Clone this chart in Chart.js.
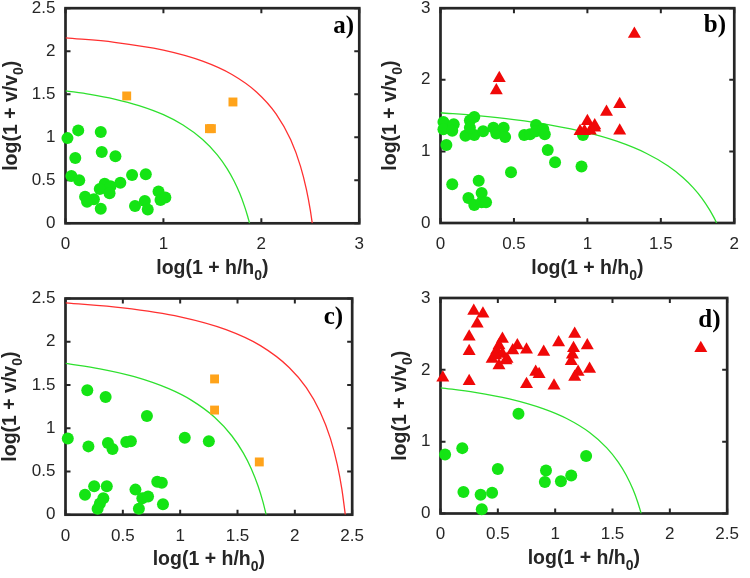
<!DOCTYPE html>
<html>
<head>
<meta charset="utf-8">
<script src="https://cdn.jsdelivr.net/npm/chart.js@4/dist/chart.umd.min.js"></script>
<style>
  body { margin: 0; background: #fff; }
  #wrap { position: relative; width: 750px; height: 578px; background: #fff; overflow: hidden; }
  .panel { position: absolute; width: 375px; height: 301px; }
</style>
</head>
<body>
<div id="wrap">
  <div class="panel" style="left:0;top:-12px"><canvas id="chartA" width="375" height="301"></canvas></div>
  <div class="panel" style="left:375px;top:-12px"><canvas id="chartB" width="375" height="301"></canvas></div>
  <div class="panel" style="left:0;top:277px"><canvas id="chartC" width="375" height="301"></canvas></div>
  <div class="panel" style="left:375px;top:277px"><canvas id="chartD" width="375" height="301"></canvas></div>
</div>
<script>
// ---- panel a ----
const aGreenX = [0.02, 0.13, 0.36, 0.10, 0.37, 0.51, 0.06, 0.14, 0.68, 0.82, 0.56, 0.40, 0.46, 0.35, 0.45, 0.20, 0.29, 0.22, 0.36, 0.71, 0.81, 0.84, 0.95, 0.97, 1.02];
const aGreenY = [0.99, 1.08, 1.06, 0.76, 0.83, 0.78, 0.55, 0.50, 0.56, 0.57, 0.47, 0.46, 0.43, 0.40, 0.35, 0.31, 0.28, 0.25, 0.17, 0.20, 0.26, 0.16, 0.37, 0.27, 0.30];
const aOrangeX = [0.625, 1.47, 1.49, 1.71];
const aOrangeY = [1.48, 1.10, 1.10, 1.41];
const aRedCurveX = [0, 0.5, 1.0, 1.4, 1.7, 1.95, 2.15, 2.3, 2.4, 2.46, 2.5, 2.52];
const aRedCurveY = [2.155, 2.104, 2.013, 1.885, 1.730, 1.527, 1.272, 0.970, 0.662, 0.395, 0.153, 0];
const abGreenCurveX = [0, 0.25, 0.5, 0.75, 1.0, 1.2, 1.4, 1.55, 1.65, 1.72, 1.78, 1.83, 1.86, 1.88];
const abGreenCurveY = [1.54, 1.499, 1.444, 1.368, 1.262, 1.142, 0.974, 0.796, 0.636, 0.494, 0.345, 0.191, 0.082, 0];
const aTicksX = [0, 1, 2, 3];
const aTicksY = [0, 0.5, 1, 1.5, 2, 2.5];

// ---- panel b ----
const bGreenX = [0.02, 0.02, 0.09, 0.08, 0.04, 0.08, 0.20, 0.23, 0.17, 0.23, 0.20, 0.29, 0.36, 0.38, 0.43, 0.44, 0.48, 0.26, 0.28, 0.19, 0.23, 0.28, 0.31, 0.57, 0.61, 0.65, 0.65, 0.70, 0.71, 0.73, 0.78, 0.96, 0.97];
const bGreenY = [1.41, 1.31, 1.38, 1.29, 1.09, 0.54, 1.43, 1.48, 1.22, 1.23, 1.33, 1.28, 1.33, 1.25, 1.33, 1.20, 0.71, 0.59, 0.42, 0.35, 0.25, 0.29, 0.29, 1.23, 1.24, 1.37, 1.28, 1.31, 1.24, 1.02, 0.85, 0.79, 1.23];
const bRedX = [1.32, 0.40, 0.38, 1.13, 1.22, 1.22, 1.00, 1.05, 0.95, 0.98, 1.02, 1.05];
const bRedY = [2.64, 2.02, 1.85, 1.55, 1.66, 1.29, 1.42, 1.36, 1.28, 1.28, 1.29, 1.33];
const bTicksX = [0, 0.5, 1, 1.5, 2];
const bTicksY = [0, 1, 2, 3];

// ---- panel c ----
const cGreenX = [0.02, 0.19, 0.35, 0.20, 0.37, 0.41, 0.53, 0.57, 0.71, 1.04, 1.25, 0.17, 0.25, 0.36, 0.33, 0.30, 0.28, 0.61, 0.64, 0.67, 0.72, 0.80, 0.84, 0.85];
const cGreenY = [0.88, 1.44, 1.36, 0.79, 0.83, 0.76, 0.84, 0.85, 1.14, 0.89, 0.85, 0.23, 0.33, 0.33, 0.19, 0.13, 0.07, 0.29, 0.07, 0.19, 0.21, 0.38, 0.37, 0.12];
const cOrangeX = [1.30, 1.30, 1.69];
const cOrangeY = [1.57, 1.21, 0.61];
const cRedCurveX = [0, 0.5, 1.0, 1.4, 1.7, 1.95, 2.1, 2.22, 2.31, 2.37, 2.41, 2.44];
const cRedCurveY = [2.45, 2.392, 2.288, 2.140, 1.955, 1.703, 1.469, 1.191, 0.882, 0.579, 0.295, 0];
const cdGreenCurveX = [0, 0.3, 0.6, 0.9, 1.1, 1.3, 1.45, 1.55, 1.62, 1.68, 1.72, 1.75];
const cdGreenCurveY = [1.75, 1.687, 1.596, 1.457, 1.322, 1.127, 0.913, 0.715, 0.532, 0.329, 0.157, 0];
const cTicksX = [0, 0.5, 1, 1.5, 2, 2.5];
const cTicksY = [0, 0.5, 1, 1.5, 2, 2.5];

// ---- panel d ----
const dGreenX = [0.04, 0.19, 0.20, 0.35, 0.36, 0.45, 0.50, 0.68, 0.92, 0.91, 1.05, 1.14, 1.27];
const dGreenY = [0.82, 0.91, 0.30, 0.26, 0.06, 0.29, 0.62, 1.39, 0.60, 0.44, 0.45, 0.53, 0.80];
const dRedX = [0.02, 0.29, 0.37, 0.32, 0.25, 0.25, 0.25, 0.45, 0.49, 0.51, 0.54, 0.54, 0.57, 0.51, 0.58, 0.63, 0.67, 0.75, 0.75, 0.90, 0.83, 0.86, 0.99, 1.03, 1.17, 1.16, 1.15, 1.14, 1.20, 1.17, 1.28, 1.30, 2.27, 0.48];
const dRedY = [1.89, 2.82, 2.78, 2.64, 2.46, 2.26, 1.84, 2.15, 2.27, 2.34, 2.43, 2.22, 2.13, 2.06, 2.15, 2.27, 2.34, 2.28, 1.80, 2.25, 1.97, 1.94, 1.78, 2.38, 2.50, 2.30, 2.21, 2.12, 1.97, 1.90, 2.34, 2.01, 2.30, 2.20];
const dTicksX = [0, 0.5, 1, 1.5, 2, 2.5];
const dTicksY = [0, 1, 2, 3];

const INK = '#262626';
const GREEN = 'rgb(20,228,20)';
const ORANGE = '#ffa31a';
const RED = 'rgb(240,8,8)';

function pts(xs, ys) {
    return xs.map((x, i) => ({ x: x, y: ys[i] }));
}

function drawSubText(ctx, main, sub, tail, cx, baseY) {
    const fMain = 'bold 19.5px "Liberation Sans", Arial, sans-serif';
    const fSub = 'bold 14px "Liberation Sans", Arial, sans-serif';
    ctx.font = fMain;
    const w1 = ctx.measureText(main).width;
    const w3 = ctx.measureText(tail).width;
    ctx.font = fSub;
    const w2 = ctx.measureText(sub).width;
    let x = cx - (w1 + w2 + w3) / 2;
    ctx.textAlign = 'left';
    ctx.textBaseline = 'alphabetic';
    ctx.font = fMain;
    ctx.fillText(main, x, baseY);
    ctx.font = fSub;
    ctx.fillText(sub, x + w1, baseY + 6);
    ctx.font = fMain;
    ctx.fillText(tail, x + w1 + w2, baseY);
}

// box, inward ticks, axis titles and panel letter
const deco = {
    id: 'deco',
    beforeDatasetsDraw(chart) {
        const { ctx, chartArea: a, scales } = chart;
        ctx.save();
        ctx.strokeStyle = INK;
        ctx.lineWidth = 2;
        ctx.beginPath();
        scales.x.ticks.forEach(t => {
            const px = scales.x.getPixelForValue(t.value);
            ctx.moveTo(px, a.bottom); ctx.lineTo(px, a.bottom - 5);
            ctx.moveTo(px, a.top); ctx.lineTo(px, a.top + 5);
        });
        scales.y.ticks.forEach(t => {
            const py = scales.y.getPixelForValue(t.value);
            ctx.moveTo(a.left, py); ctx.lineTo(a.left + 5, py);
            ctx.moveTo(a.right, py); ctx.lineTo(a.right - 5, py);
        });
        ctx.stroke();
        ctx.lineWidth = 2.7;
        ctx.strokeRect(a.left, a.top, a.right - a.left, a.bottom - a.top);
        ctx.restore();
    },
    afterDraw(chart, args, opts) {
        const { ctx, chartArea: a } = chart;
        ctx.save();
        ctx.fillStyle = INK;
        drawSubText(ctx, 'log(1 + h/h', '0', ')', (a.left + a.right) / 2, a.bottom + 50.5);
        ctx.translate(opts.yTitleX, (a.top + a.bottom) / 2);
        ctx.rotate(-Math.PI / 2);
        drawSubText(ctx, 'log(1 + v/v', '0', ')', 0, 0);
        ctx.restore();

        ctx.save();
        ctx.fillStyle = '#000';
        ctx.font = 'bold 25px "Liberation Serif", "Times New Roman", serif';
        ctx.textAlign = 'right';
        ctx.textBaseline = 'alphabetic';
        ctx.fillText(opts.label, a.right - opts.labelInset, a.top + opts.labelDy);
        ctx.restore();
    }
};

function makeChart(id, cfg) {
    const datasets = [];
    cfg.triangles && datasets.push({ data: cfg.triangles, pointStyle: 'triangle', pointRadius: 7.5, backgroundColor: RED, borderColor: RED, borderWidth: 0, clip: false });
    cfg.squares && datasets.push({ data: cfg.squares, pointStyle: 'rect', pointRadius: 6.3, backgroundColor: ORANGE, borderColor: ORANGE, borderWidth: 0, clip: false });
    datasets.push({ data: cfg.circles, pointStyle: 'circle', pointRadius: 6, backgroundColor: GREEN, borderColor: GREEN, borderWidth: 0, clip: false });
    cfg.curves.forEach(c => datasets.push({
        data: c.data, showLine: true, pointRadius: 0, borderColor: c.color, borderWidth: 1.3,
        cubicInterpolationMode: 'monotone', fill: false
    }));

    const tickFont = { family: '"Liberation Sans", Arial, sans-serif', size: 17 };
    new Chart(document.getElementById(id), {
        type: 'scatter',
        data: { datasets: datasets },
        options: {
            responsive: false,
            animation: false,
            events: [],
            layout: { padding: { top: cfg.padTop, right: cfg.padRight, left: 0, bottom: 0 } },
            plugins: {
                legend: { display: false },
                tooltip: { enabled: false },
                deco: { label: cfg.label, yTitleX: cfg.yTitleX, labelInset: cfg.labelInset, labelDy: cfg.labelDy }
            },
            scales: {
                x: {
                    type: 'linear', min: cfg.ticksX[0], max: cfg.ticksX[cfg.ticksX.length - 1],
                    afterBuildTicks: s => { s.ticks = cfg.ticksX.map(v => ({ value: v })); },
                    afterFit: s => { s.height = cfg.xAxisH; },
                    grid: { display: false, drawTicks: false },
                    border: { display: false },
                    ticks: { padding: 11, font: tickFont, color: INK, maxRotation: 0, autoSkip: false, callback: v => String(v) }
                },
                y: {
                    type: 'linear', min: cfg.ticksY[0], max: cfg.ticksY[cfg.ticksY.length - 1],
                    afterBuildTicks: s => { s.ticks = cfg.ticksY.map(v => ({ value: v })); },
                    afterFit: s => { s.width = 65.5; },
                    grid: { display: false, drawTicks: false },
                    border: { display: false },
                    ticks: { padding: 10, font: tickFont, color: INK, autoSkip: false, callback: v => String(v) }
                }
            }
        },
        plugins: [deco]
    });
}

makeChart('chartA', {
    label: 'a)', circles: pts(aGreenX, aGreenY), squares: pts(aOrangeX, aOrangeY),
    curves: [{ data: pts(aRedCurveX, aRedCurveY), color: '#ff3030' }, { data: pts(abGreenCurveX, abGreenCurveY), color: '#2ee02e' }],
    ticksX: aTicksX, ticksY: aTicksY,
    padTop: 18, padRight: 12.7, xAxisH: 65.7, yTitleX: 17, labelInset: 5.3, labelDy: 24.7
});
makeChart('chartB', {
    label: 'b)', circles: pts(bGreenX, bGreenY), triangles: pts(bRedX, bRedY),
    curves: [{ data: pts(abGreenCurveX, abGreenCurveY), color: '#2ee02e' }],
    ticksX: bTicksX, ticksY: bTicksY,
    padTop: 18, padRight: 12.5, xAxisH: 66, yTitleX: 21, labelInset: 8.2, labelDy: 24
});
makeChart('chartC', {
    label: 'c)', circles: pts(cGreenX, cGreenY), squares: pts(cOrangeX, cOrangeY),
    curves: [{ data: pts(cRedCurveX, cRedCurveY), color: '#ff3030' }, { data: pts(cdGreenCurveX, cdGreenCurveY), color: '#2ee02e' }],
    ticksX: cTicksX, ticksY: cTicksY,
    padTop: 21.5, padRight: 11, xAxisH: 63.3, yTitleX: 15.5, labelInset: 9, labelDy: 25.8
});
makeChart('chartD', {
    label: 'd)', circles: pts(dGreenX, dGreenY), triangles: pts(dRedX, dRedY),
    curves: [{ data: pts(cdGreenCurveX, cdGreenCurveY), color: '#2ee02e' }],
    ticksX: dTicksX, ticksY: dTicksY,
    padTop: 21, padRight: 13.3, xAxisH: 64.5, yTitleX: 31, labelInset: 6.7, labelDy: 28.7
});
</script>
</body>
</html>
